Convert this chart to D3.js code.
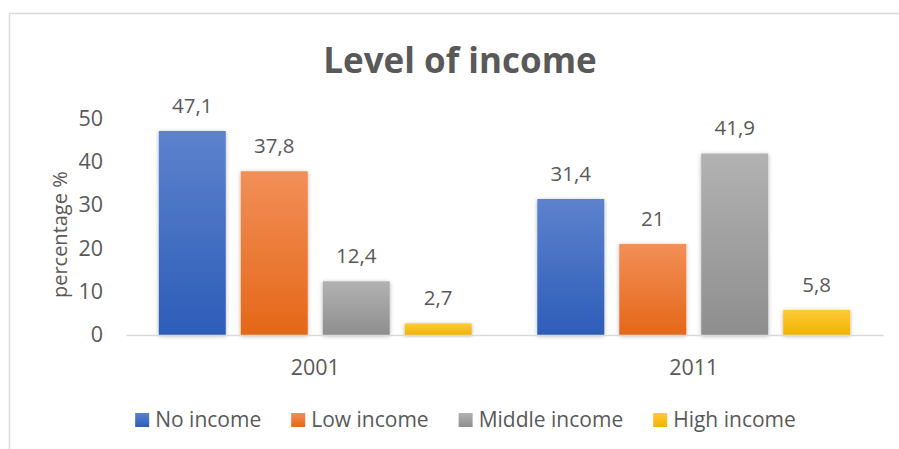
<!DOCTYPE html>
<html>
<head>
<meta charset="utf-8">
<script src="https://cdn.jsdelivr.net/npm/d3@7"></script>
<style>
  html, body { margin: 0; padding: 0; background: #fff; }
  svg { display: block; font-family: "Open Sans", sans-serif; }
</style>
</head>
<body>
<svg id="chart" width="899" height="449"></svg>
<script>
// Income levels by census year (percentage of households)
const years = ["2001", "2011"];
const seriesNames = ["No income", "Low income", "Middle income", "High income"];
const noIncome = [47.1, 31.4];
const lowIncome = [37.8, 21];
const middleIncome = [12.4, 41.9];
const highIncome = [2.7, 5.8];
const yTicks = [0, 10, 20, 30, 40, 50];

const seriesValues = [noIncome, lowIncome, middleIncome, highIncome];
const colorStops = [
  ["#5d82cd", "#2d5db8"],
  ["#f28f57", "#e46718"],
  ["#b2b2b2", "#8e8e8e"],
  ["#ffca3a", "#efb400"]
];

const svg = d3.select("#chart");
const textColor = "#595959";

// frame
svg.append("rect")
  .attr("x", 9.5).attr("y", 13.5)
  .attr("width", 900).attr("height", 450)
  .attr("fill", "#fff").attr("stroke", "#d9d9d9").attr("stroke-width", 1.5);

const defs = svg.append("defs");
colorStops.forEach((c, i) => {
  const g = defs.append("linearGradient")
    .attr("id", "grad" + i)
    .attr("x1", 0).attr("y1", 0).attr("x2", 0).attr("y2", 1);
  g.append("stop").attr("offset", "0%").attr("stop-color", c[0]);
  g.append("stop").attr("offset", "100%").attr("stop-color", c[1]);
});
const shadow = defs.append("filter").attr("id", "shadow")
  .attr("x", "-20%").attr("y", "-20%").attr("width", "140%").attr("height", "140%");
shadow.append("feDropShadow")
  .attr("dx", 0).attr("dy", 1).attr("stdDeviation", 2.2)
  .attr("flood-color", "#000").attr("flood-opacity", 0.3);

// scales
const plot = { left: 126, right: 883, top: 118.4, bottom: 335 };
const x0 = d3.scaleBand().domain(years).range([plot.left, plot.right]);
const x1 = d3.scaleBand().domain(seriesNames)
  .range([0, x0.bandwidth()]).paddingInner(0.183).paddingOuter(0.4);
const y = d3.scaleLinear().domain([0, 50]).range([plot.bottom, plot.top]);

// title
svg.append("text")
  .attr("x", 460).attr("y", 73)
  .attr("text-anchor", "middle")
  .attr("font-size", 35).attr("font-weight", 700)
  .attr("fill", textColor)
  .text("Level of income");

// y axis (labels only)
const yAxis = svg.append("g")
  .attr("transform", `translate(${plot.left},0)`)
  .call(d3.axisLeft(y).tickValues(yTicks).tickSize(0).tickPadding(23));
yAxis.select(".domain").remove();
yAxis.selectAll("text")
  .attr("font-family", "Open Sans, sans-serif")
  .attr("font-size", 21.5).attr("fill", textColor);

svg.append("text")
  .attr("transform", `translate(67,${(plot.top + plot.bottom) / 2 + 8}) rotate(-90)`)
  .attr("text-anchor", "middle")
  .attr("font-size", 20).attr("fill", textColor)
  .text("percentage %");

// bars
const groups = svg.append("g").selectAll("g")
  .data(years)
  .join("g")
  .attr("transform", d => `translate(${x0(d)},0)`);

const cells = (yr, yi) => seriesNames.map((s, si) => ({ s, si, v: seriesValues[si][yi] }));

groups.selectAll("rect")
  .data(cells)
  .join("rect")
  .attr("x", d => x1(d.s))
  .attr("y", d => y(d.v))
  .attr("width", x1.bandwidth())
  .attr("height", d => y(0) - y(d.v))
  .attr("fill", d => `url(#grad${d.si})`)
  .attr("filter", "url(#shadow)");

groups.selectAll("text.value")
  .data(cells)
  .join("text")
  .attr("class", "value")
  .attr("x", d => x1(d.s) + x1.bandwidth() / 2)
  .attr("y", d => y(d.v) - 18)
  .attr("text-anchor", "middle")
  .attr("font-size", 20.5).attr("fill", textColor)
  .text(d => String(d.v).replace(".", ","));

// x axis
const xAxis = svg.append("g")
  .attr("transform", `translate(0,${plot.bottom})`)
  .call(d3.axisBottom(x0).tickSize(0).tickPadding(25));
xAxis.select(".domain").attr("stroke", "#d9d9d9").attr("stroke-width", 1.5);
xAxis.selectAll("text")
  .attr("font-family", "Open Sans, sans-serif")
  .attr("font-size", 21.5).attr("fill", textColor);

// legend
const legend = svg.append("g");
const items = legend.selectAll("g").data(seriesNames).join("g");
items.append("rect")
  .attr("width", 14).attr("height", 14).attr("y", -7)
  .attr("fill", (d, i) => `url(#grad${i})`);
items.append("text")
  .attr("x", 20).attr("dy", "0.35em")
  .attr("font-size", 21).attr("fill", textColor)
  .text(d => d);
const gap = 30;
let cursor = 0;
items.each(function () {
  d3.select(this).attr("transform", `translate(${cursor},0)`);
  cursor += 20 + d3.select(this).select("text").node().getComputedTextLength() + gap;
});
const legendWidth = cursor - gap;
legend.attr("transform", `translate(${465.5 - legendWidth / 2},420)`);
</script>
</body>
</html>
